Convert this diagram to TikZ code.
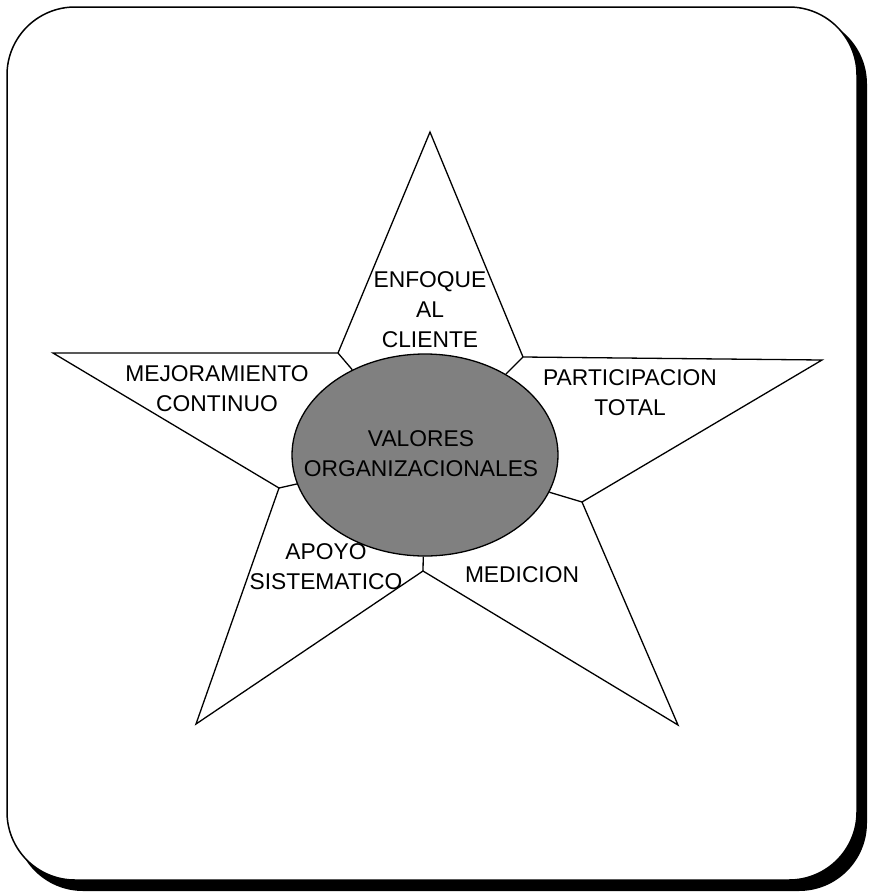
\documentclass[tikz,border=0pt]{standalone}
\usepackage{fontspec}
\setmainfont{Liberation Sans}
\usetikzlibrary{shapes.geometric}
\begin{document}
\begin{tikzpicture}[x=1pt,y=-1pt,
  starline/.style={line width=1.3pt, line join=miter},
  lbl/.style={font=\fontsize{22.8pt}{30pt}\selectfont, align=center, inner sep=0pt},
  core/.style={ellipse, draw, line width=1.3pt, fill=black!50, minimum width=266pt, minimum height=202pt, inner sep=0pt}]
\useasboundingbox (0,0) rectangle (872,892);
% frame with shadow
\fill[black, rounded corners=68pt] (15,16) rectangle (867,891);
\draw[fill=white, line width=1.5pt, rounded corners=68pt] (7,7) rectangle (857,880);
% star vertices
\coordinate (T)  at (430,132);
\coordinate (RI) at (523,357);
\coordinate (R)  at (822,360);
\coordinate (RL) at (582,502);
\coordinate (BR) at (678,725);
\coordinate (BI) at (423,571);
\coordinate (BL) at (196,724);
\coordinate (LL) at (279,488);
\coordinate (L)  at (53,353);
\coordinate (LI) at (338,353);
\draw[starline] (T) -- (RI) -- (R) -- (RL) -- (BR) -- (BI) -- (BL) -- (LL) -- (L) -- (LI) -- cycle;
% central ellipse
\node[core] (core) at (425,455) {};
\draw[starline] (LI) -- (core);
\draw[starline] (RI) -- (core);
\draw[starline] (RL) -- (core);
\draw[starline] (BI) -- (core);
\draw[starline] (LL) -- (core);
% labels
\node[lbl] (coretext) at (421,454) {VALORES\\ORGANIZACIONALES};
\node[lbl] (enfoque) at (430,310) {ENFOQUE\\AL\\CLIENTE};
\node[lbl] (mejora) at (217,389) {MEJORAMIENTO\\CONTINUO};
\node[lbl] (partic) at (630,393) {PARTICIPACION\\TOTAL};
\node[lbl] (apoyo) at (326,567) {APOYO\\SISTEMATICO};
\node[lbl] (medicion) at (522,575) {MEDICION};
\end{tikzpicture}
\end{document}
